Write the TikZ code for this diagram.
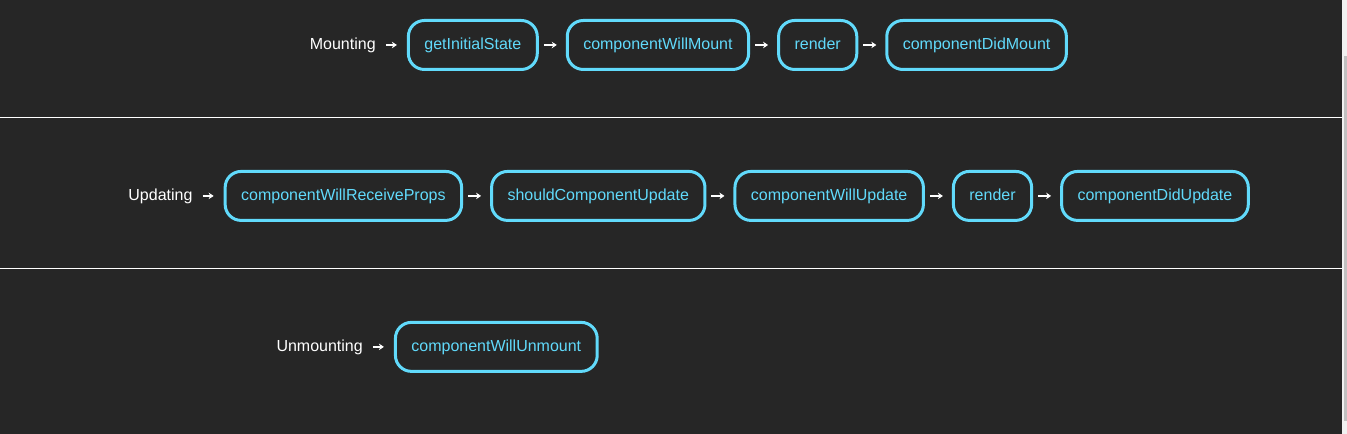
\documentclass[tikz,border=0pt]{standalone}
\usepackage{fontspec}
\setmainfont{Liberation Sans}
\usetikzlibrary{positioning,arrows.meta}
\definecolor{pageBg}{HTML}{262626}
\definecolor{reactBlue}{HTML}{61DAFB}
\definecolor{barTrack}{HTML}{F1F1F1}
\definecolor{barThumb}{HTML}{C1C1C1}

\begin{document}
\begin{tikzpicture}
[x=1pt,y=-1pt,
 boxDecorate/.style={shape=rectangle,draw=reactBlue,line width=3pt,rounded corners=16pt,%
   text=reactBlue,inner xsep=16pt,inner ysep=0pt,minimum height=49pt,%
   text height=13pt,text depth=3pt,font=\fontsize{16}{19}\selectfont},%
 labelDecorate/.style={inner sep=0pt,text=white,text height=13pt,text depth=3pt,%
   font=\fontsize{16}{19}\selectfont},%
 lineDecorate/.style={-{Stealth[length=5pt,width=6.5pt]},line width=1.8pt,white,%
   shorten <=5pt,shorten >=9pt},%
 node distance=27pt]
%% page, separators and scroll bar
\fill[pageBg] (0,0) rectangle (1347,434);
\draw[white,line width=1pt] (0,118) -- (1342,118);
\draw[white,line width=1pt] (0,269) -- (1342,269);
\fill[barTrack] (1342,0) rectangle (1347,434);
\fill[barThumb] (1343.5,56) rectangle (1346.5,421);
%% mounting row
\node (getInitialState) at (472.5,45) [boxDecorate] {getInitialState};
\node (mounting) [labelDecorate,left=31pt of getInitialState] {Mounting};
\foreach \nodename/\prevname/\txt in {
  componentWillMount/getInitialState/componentWillMount,
  renderMount/componentWillMount/render,
  componentDidMount/renderMount/componentDidMount}
{
  \node (\nodename) [boxDecorate,right=of \prevname] {\txt};
}
%% updating row
\node (componentWillReceiveProps) at (343,196) [boxDecorate] {componentWillReceiveProps};
\node (updating) [labelDecorate,left=31pt of componentWillReceiveProps] {Updating};
\foreach \nodename/\prevname/\txt in {
  shouldComponentUpdate/componentWillReceiveProps/shouldComponentUpdate,
  componentWillUpdate/shouldComponentUpdate/componentWillUpdate,
  renderUpdate/componentWillUpdate/render,
  componentDidUpdate/renderUpdate/componentDidUpdate}
{
  \node (\nodename) [boxDecorate,right=of \prevname] {\txt};
}
%% unmounting row
\node (componentWillUnmount) at (496,347) [boxDecorate] {componentWillUnmount};
\node (unmounting) [labelDecorate,left=31pt of componentWillUnmount] {Unmounting};
%% arrows
\path
\foreach \startnode/\endnode in {
  getInitialState/componentWillMount, componentWillMount/renderMount,
  renderMount/componentDidMount,
  componentWillReceiveProps/shouldComponentUpdate,
  shouldComponentUpdate/componentWillUpdate, componentWillUpdate/renderUpdate,
  renderUpdate/componentDidUpdate}
{
  (\startnode) edge[lineDecorate] (\endnode)
};
\path
\foreach \startnode/\endnode in {
  mounting/getInitialState, updating/componentWillReceiveProps,
  unmounting/componentWillUnmount}
{
  (\startnode) edge[lineDecorate,shorten <=10pt,shorten >=10pt] (\endnode)
};
\end{tikzpicture}
\end{document}
